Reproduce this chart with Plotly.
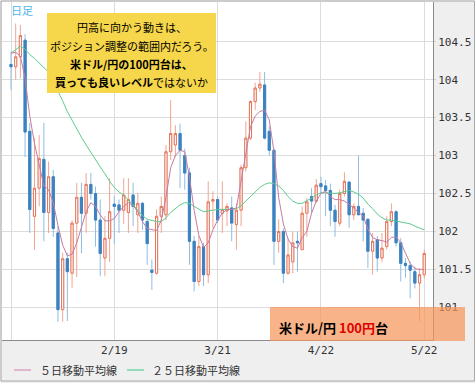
import plotly.graph_objects as go

# ---- data (USD/JPY daily) ----
open_ = [104.20, 104.17, 104.30, 104.52, 103.32, 102.20, 102.57, 102.95, 102.25, 102.72,
         101.98, 100.97, 101.64, 101.45, 102.11, 102.45, 102.24, 102.62, 102.50, 102.15,
         101.65, 101.91, 102.36, 102.35, 102.28, 102.25, 102.48, 102.22, 102.37, 102.13,
         101.49, 101.45, 102.20, 102.22, 103.05, 103.14, 103.29, 103.00, 102.77, 101.87,
         101.34, 101.80, 101.43, 102.40, 102.42, 102.24, 102.27, 102.31, 102.09, 102.28,
         102.84, 103.23, 103.71, 103.89, 103.93, 103.32, 103.07, 101.87, 102.00, 101.45,
         101.60, 101.87, 101.76, 102.24, 102.46, 102.40, 102.63, 102.60, 102.54, 102.28,
         102.11, 102.50, 102.65, 102.22, 102.33, 102.24, 102.16, 101.74, 101.89, 101.65,
         101.80, 102.13, 102.26, 101.85, 101.58, 101.55, 101.47, 101.32, 101.43]
high = [104.37, 104.74, 104.72, 104.60, 103.43, 103.23, 103.27, 103.43, 102.92, 102.81,
        102.07, 101.72, 101.72, 102.15, 102.64, 102.64, 102.77, 102.77, 102.59, 102.42,
        102.20, 102.70, 102.46, 102.42, 102.70, 102.70, 102.64, 102.51, 102.39, 102.15,
        101.63, 102.29, 102.46, 103.14, 103.73, 103.40, 103.42, 103.09, 102.84, 101.94,
        101.94, 101.85, 102.66, 102.53, 102.46, 102.66, 102.37, 102.46, 102.37, 102.88,
        103.45, 103.73, 103.96, 104.10, 104.10, 103.39, 103.09, 102.16, 102.04, 101.91,
        102.00, 102.00, 102.33, 102.44, 102.57, 102.69, 102.72, 102.68, 102.63, 102.35,
        102.55, 102.78, 102.66, 102.37, 103.00, 102.31, 102.17, 101.98, 101.94, 101.98,
        102.20, 102.37, 102.28, 101.91, 101.65, 101.60, 101.54, 101.52, 101.76]
low = [103.86, 104.00, 104.02, 102.98, 101.98, 101.76, 102.33, 101.87, 101.98, 101.93,
       100.81, 100.81, 100.82, 101.26, 101.40, 101.71, 101.98, 102.42, 101.80, 101.41,
       101.41, 101.60, 101.84, 101.98, 102.10, 101.98, 102.07, 101.98, 102.02, 101.56,
       101.23, 101.43, 101.98, 102.15, 102.94, 102.98, 102.57, 102.55, 101.56, 101.21,
       101.28, 101.28, 101.32, 102.04, 102.11, 101.98, 102.07, 101.87, 101.76, 102.07,
       102.79, 103.20, 103.60, 103.84, 103.21, 103.00, 101.56, 101.72, 101.32, 101.43,
       101.45, 101.47, 101.76, 101.93, 102.24, 102.38, 102.50, 102.20, 102.07, 101.93,
       102.07, 102.46, 102.05, 102.15, 102.22, 101.87, 101.52, 101.43, 101.47, 101.60,
       101.76, 102.07, 101.80, 101.34, 101.39, 101.12, 101.25, 100.82, 101.38]
close = [104.17, 104.30, 104.58, 103.31, 102.29, 102.57, 102.96, 102.25, 102.72, 102.04,
         100.97, 101.64, 101.47, 102.11, 102.45, 102.24, 102.62, 102.50, 102.15, 101.71,
         101.91, 102.26, 102.33, 102.28, 102.48, 102.42, 102.33, 102.37, 102.15, 101.84,
         101.46, 102.20, 102.33, 103.05, 103.29, 103.29, 103.07, 102.77, 101.87, 101.34,
         101.80, 101.43, 102.39, 102.42, 102.15, 102.29, 102.33, 102.11, 102.28, 102.84,
         103.23, 103.71, 103.89, 103.94, 103.23, 103.07, 101.87, 102.00, 101.45, 101.69,
         101.85, 101.85, 102.24, 102.39, 102.40, 102.61, 102.59, 102.54, 102.28, 102.13,
         102.50, 102.66, 102.22, 102.33, 102.22, 102.15, 101.74, 101.87, 101.65, 101.78,
         102.13, 102.26, 101.85, 101.58, 101.55, 101.49, 101.32, 101.43, 101.71]
ma5 = [104.35, 104.36, 104.31, 104.02, 103.52, 103.16, 102.88, 102.60, 102.55, 102.38,
       102.08, 101.82, 101.68, 101.70, 101.85, 102.07, 102.26, 102.38, 102.33, 102.22,
       102.14, 102.14, 102.17, 102.26, 102.33, 102.38, 102.34, 102.26, 102.13, 102.04,
       102.02, 102.01, 102.15, 102.45, 102.84, 103.00, 103.07, 103.05, 102.72, 102.28,
       101.95, 101.79, 101.85, 102.02, 102.15, 102.24, 102.29, 102.29, 102.31, 102.65,
       103.00, 103.38, 103.52, 103.58, 103.60, 103.47, 103.05, 102.45, 102.10, 101.90,
       101.80, 101.78, 101.92, 102.00, 102.24, 102.40, 102.50, 102.53, 102.46, 102.42,
       102.42, 102.40, 102.36, 102.30, 102.25, 102.20, 102.03, 101.92, 101.89, 101.88,
       101.86, 101.92, 101.93, 101.85, 101.72, 101.58, 101.51, 101.50, 101.50]
ma25 = [104.35, 104.40, 104.44, 104.40, 104.33, 104.28, 104.22, 104.16, 104.10, 103.98,
        103.86, 103.72, 103.58, 103.46, 103.36, 103.24, 103.14, 103.04, 102.94, 102.85,
        102.76, 102.66, 102.58, 102.52, 102.48, 102.42, 102.35, 102.28, 102.21, 102.16,
        102.14, 102.13, 102.13, 102.18, 102.25, 102.30, 102.35, 102.38, 102.37, 102.33,
        102.29, 102.26, 102.27, 102.28, 102.29, 102.29, 102.29, 102.29, 102.30, 102.34,
        102.40, 102.46, 102.52, 102.58, 102.62, 102.64, 102.63, 102.60, 102.54, 102.46,
        102.40, 102.37, 102.37, 102.40, 102.44, 102.48, 102.51, 102.51, 102.50, 102.50,
        102.51, 102.53, 102.54, 102.52, 102.49, 102.44, 102.36, 102.30, 102.23, 102.18,
        102.15, 102.15, 102.14, 102.13, 102.12, 102.10, 102.07, 102.04, 102.02]
x_tick_days = [0, 22, 44, 66, 88]
x_tick_labels = ["", "2/19", "3/21", "4/22", "5/22"]
y_ticks = [101, 101.5, 102, 102.5, 103, 103.5, 104, 104.5]
y_tick_labels = ["101", "101.5", "102", "102.5", "103", "103.5", "104", "104.5"]

days = list(range(len(close)))
body_hi = [max(o, c) for o, c in zip(open_, close)]
body_lo = [min(o, c) for o, c in zip(open_, close)]

# ---- geometry helpers (pixel -> paper) ----
W, H = 475, 383
ML, MR, MT, MB = 2, 42, 2, 43
PW, PH = W - ML - MR, H - MT - MB
def px(xp):
    return (xp - ML) / PW
def py(yp):
    return (H - MB - yp) / PH

fig = go.Figure()
# wicks (lighter)
fig.add_trace(go.Candlestick(
    x=days, open=open_, high=high, low=low, close=close,
    increasing=dict(line=dict(color="#f0a590", width=1), fillcolor="white"),
    decreasing=dict(line=dict(color="#8fbce2", width=1), fillcolor="#3d82c0"),
    whiskerwidth=0, hoverinfo="skip", showlegend=False))
# bodies
fig.add_trace(go.Candlestick(
    x=days, open=open_, high=body_hi, low=body_lo, close=close,
    increasing=dict(line=dict(color="#e4765c", width=1), fillcolor="white"),
    decreasing=dict(line=dict(color="#3d82c0", width=1), fillcolor="#3d82c0"),
    whiskerwidth=0, hoverinfo="skip", showlegend=False))
fig.add_trace(go.Scatter(x=days, y=ma25, mode="lines",
                         line=dict(color="#5ccb8e", width=1), hoverinfo="skip",
                         showlegend=False))
fig.add_trace(go.Scatter(x=days, y=ma5, mode="lines",
                         line=dict(color="#c47ca2", width=1), hoverinfo="skip",
                         showlegend=False))

x0 = (ML - 11) / 4.696
x1 = (W - MR - 11) / 4.696
fig.update_layout(
    width=W, height=H,
    margin=dict(l=ML, r=MR, t=MT, b=MB, autoexpand=False),
    paper_bgcolor="#efefef", plot_bgcolor="white",
    showlegend=False, boxgap=0.35,
    xaxis=dict(range=[x0, x1], tickvals=x_tick_days, ticktext=x_tick_labels,
               showgrid=True, gridcolor="#dcdcdc", gridwidth=1, zeroline=False,
               showline=True, linecolor="#8a8a8a", linewidth=1,
               ticks="", tickfont=dict(family="DejaVu Sans Mono", size=11, color="#333"),
               rangeslider=dict(visible=False), fixedrange=True, automargin=False),
    yaxis=dict(range=[100.57, 105.023], side="right", tickvals=y_ticks,
               ticktext=y_tick_labels, showgrid=True, gridcolor="#dcdcdc",
               gridwidth=1, zeroline=False, showline=True, linecolor="#8a8a8a",
               linewidth=1, ticks="outside", ticklen=2, tickcolor="#cfcfcf",
               tickfont=dict(family="DejaVu Sans Mono", size=11, color="#333"),
               fixedrange=True, automargin=False),
)

shapes = []
# yellow comment box
shapes.append(dict(type="rect", xref="paper", yref="paper",
                   x0=px(47), x1=px(216), y0=py(93), y1=py(13),
                   fillcolor="#f6d64b", line=dict(width=0), layer="above"))
# orange label box
shapes.append(dict(type="rect", xref="paper", yref="paper",
                   x0=px(270), x1=px(465), y0=py(341), y1=py(307),
                   fillcolor="rgba(247,150,90,0.72)", line=dict(width=0), layer="above"))
# legend lines
shapes.append(dict(type="line", xref="paper", yref="paper",
                   x0=px(14), x1=px(31), y0=py(370), y1=py(370),
                   line=dict(color="#dca3c0", width=1.5)))
shapes.append(dict(type="line", xref="paper", yref="paper",
                   x0=px(127), x1=px(144), y0=py(370), y1=py(370),
                   line=dict(color="#72d4a4", width=1.5)))
# outer border
shapes.append(dict(type="rect", xref="paper", yref="paper",
                   x0=px(1), x1=px(474.5), y0=py(381), y1=py(1),
                   line=dict(color="#a8a8a8", width=1), fillcolor="rgba(0,0,0,0)"))
fig.update_layout(shapes=shapes)

jp = "Noto Sans CJK JP"
ann = []
def note(text, xp, yp, size=11, color="black", anchor="center"):
    ann.append(dict(text=text, xref="paper", yref="paper", x=px(xp), y=py(yp),
                    xanchor=anchor, yanchor="middle", showarrow=False,
                    font=dict(family=jp, size=size, color=color)))

note("日足", 21.5, 10.5, size=11, color="#4db6e8")
cx = 131.5
note("円高に向かう動きは、", cx, 27)
note("ポジション調整の範囲内だろう。", cx, 45.5)
note("<b>米ドル/円の100円台は、</b>", cx, 64)
note("<b>買っても良いレベル</b>ではないか", cx, 82)
note("<b>米ドル/円 <span style='color:#e00000'>100円</span>台</b>", 277, 327.5,
     size=13, anchor="left")
note("５日移動平均線", 38, 370, size=11, color="#333", anchor="left")
note("２５日移動平均線", 150, 370, size=11, color="#333", anchor="left")
fig.update_layout(annotations=ann)

fig.write_html("out.html",
               config={"displayModeBar": False, "staticPlot": True},
               post_script="document.body.style.margin='0';document.body.style.padding='0';")
